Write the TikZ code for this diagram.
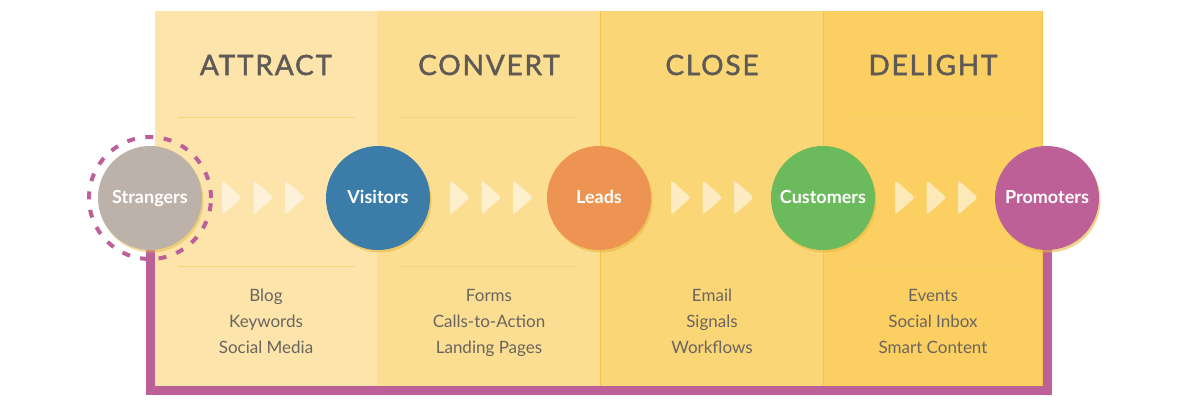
\documentclass[tikz,border=0pt]{standalone}
\usepackage{fontspec}
\setmainfont{Lato}
\newfontfamily\headfont[LetterSpace=6.5,FakeBold=1.6]{Lato}
\usetikzlibrary{calc}
\definecolor{colA}{HTML}{FCE4AB}
\definecolor{colB}{HTML}{FBDE92}
\definecolor{colC}{HTML}{FBD677}
\definecolor{colD}{HTML}{FBCF61}
\definecolor{goldline}{HTML}{F5C446}
\definecolor{sepline}{HTML}{F6D27A}
\definecolor{headgray}{HTML}{5F5A55}
\definecolor{bodygray}{HTML}{6A655F}
\definecolor{cStr}{HTML}{BCB2A9}
\definecolor{cVis}{HTML}{3B7CA9}
\definecolor{cLead}{HTML}{EE9452}
\definecolor{cCust}{HTML}{6BBA5C}
\definecolor{cProm}{HTML}{BD6097}
\definecolor{shadowc}{HTML}{E8B840}
\tikzset{
  stage/.style={circle, minimum size=104pt, inner sep=0pt, text=white,
    text height=12pt, text depth=1pt,
    font=\bfseries\fontsize{18}{20}\selectfont},
  heading/.style={text=headgray, font=\headfont\fontsize{28}{30}\selectfont},
  items/.style={text=bodygray, align=center, font=\fontsize{17}{26}\selectfont},
  chev/.style={fill=white, fill opacity=0.55, rounded corners=3pt},
  loopline/.style={draw=cProm, line width=9pt},
  sep/.style={draw=sepline, line width=0.8pt},
}
\begin{document}
\begin{tikzpicture}[x=1pt,y=-1pt]
\useasboundingbox (0,0) rectangle (1200,400);
% columns
\fill[colA] (155,11) rectangle (377,390);
\fill[colB] (377,11) rectangle (600,390);
\fill[colC] (600,11) rectangle (823,390);
\fill[colD] (823,11) rectangle (1042,390);
\draw[goldline, line width=0.8pt] (600,11) -- (600,390);
\draw[goldline, line width=0.8pt] (823,11) -- (823,390);
\draw[goldline, line width=0.8pt] (1042,11) -- (1042,390);
% separators
\foreach \a/\b in {178/355, 400/578, 622/800, 845/1021} {
  \draw[sep] (\a,117) -- (\b,117);
  \draw[sep] (\a,266) -- (\b,266);
}
% headings
\node[heading] (hA) at (266,65) {ATTRACT};
\node[heading] (hB) at (489,65) {CONVERT};
\node[heading] (hC) at (712,65) {CLOSE};
\node[heading] (hD) at (933,65) {DELIGHT};
% items
\node[items] (iA) at (266,322) {\strut Blog\\\strut Keywords\\\strut Social Media};
\node[items] (iB) at (489,322) {\strut Forms\\\strut Calls-to-Action\\\strut Landing Pages};
\node[items] (iC) at (712,322) {\strut Email\\\strut Signals\\\strut Workflows};
\node[items] (iD) at (933,322) {\strut Events\\\strut Social Inbox\\\strut Smart Content};
% loop
\draw[loopline] (1047,240) -- (1047,390) -- (150,390) -- (150,245);
% chevrons
\foreach \c in {150,378,599,823} {
  \foreach \k in {0,1,2} {
    \fill[chev] ($(\c+72+31.5*\k,180)$) -- ($(\c+92+31.5*\k,197.5)$) -- ($(\c+72+31.5*\k,215)$) -- cycle;
  }
}
% shadows
\foreach \c in {378,599,823,1047} {
  \fill[shadowc, opacity=0.6] (\c+1.5,200.5) circle (52pt);
}
\fill[shadowc, opacity=0.5] (151.5,200.5) circle (52pt);
% circles
\node[stage, fill=cStr] (str) at (150,198) {Strangers};
\node[stage, fill=cVis] (vis) at (378,198) {Visitors};
\node[stage, fill=cLead] (lead) at (599,198) {Leads};
\node[stage, fill=cCust] (cust) at (823,198) {Customers};
\node[stage, fill=cProm] (prom) at (1047,198) {Promoters};
\draw[cProm, line width=4pt, dash pattern=on 8pt off 10.5pt] (str.center) circle (61pt);
\end{tikzpicture}
\end{document}
